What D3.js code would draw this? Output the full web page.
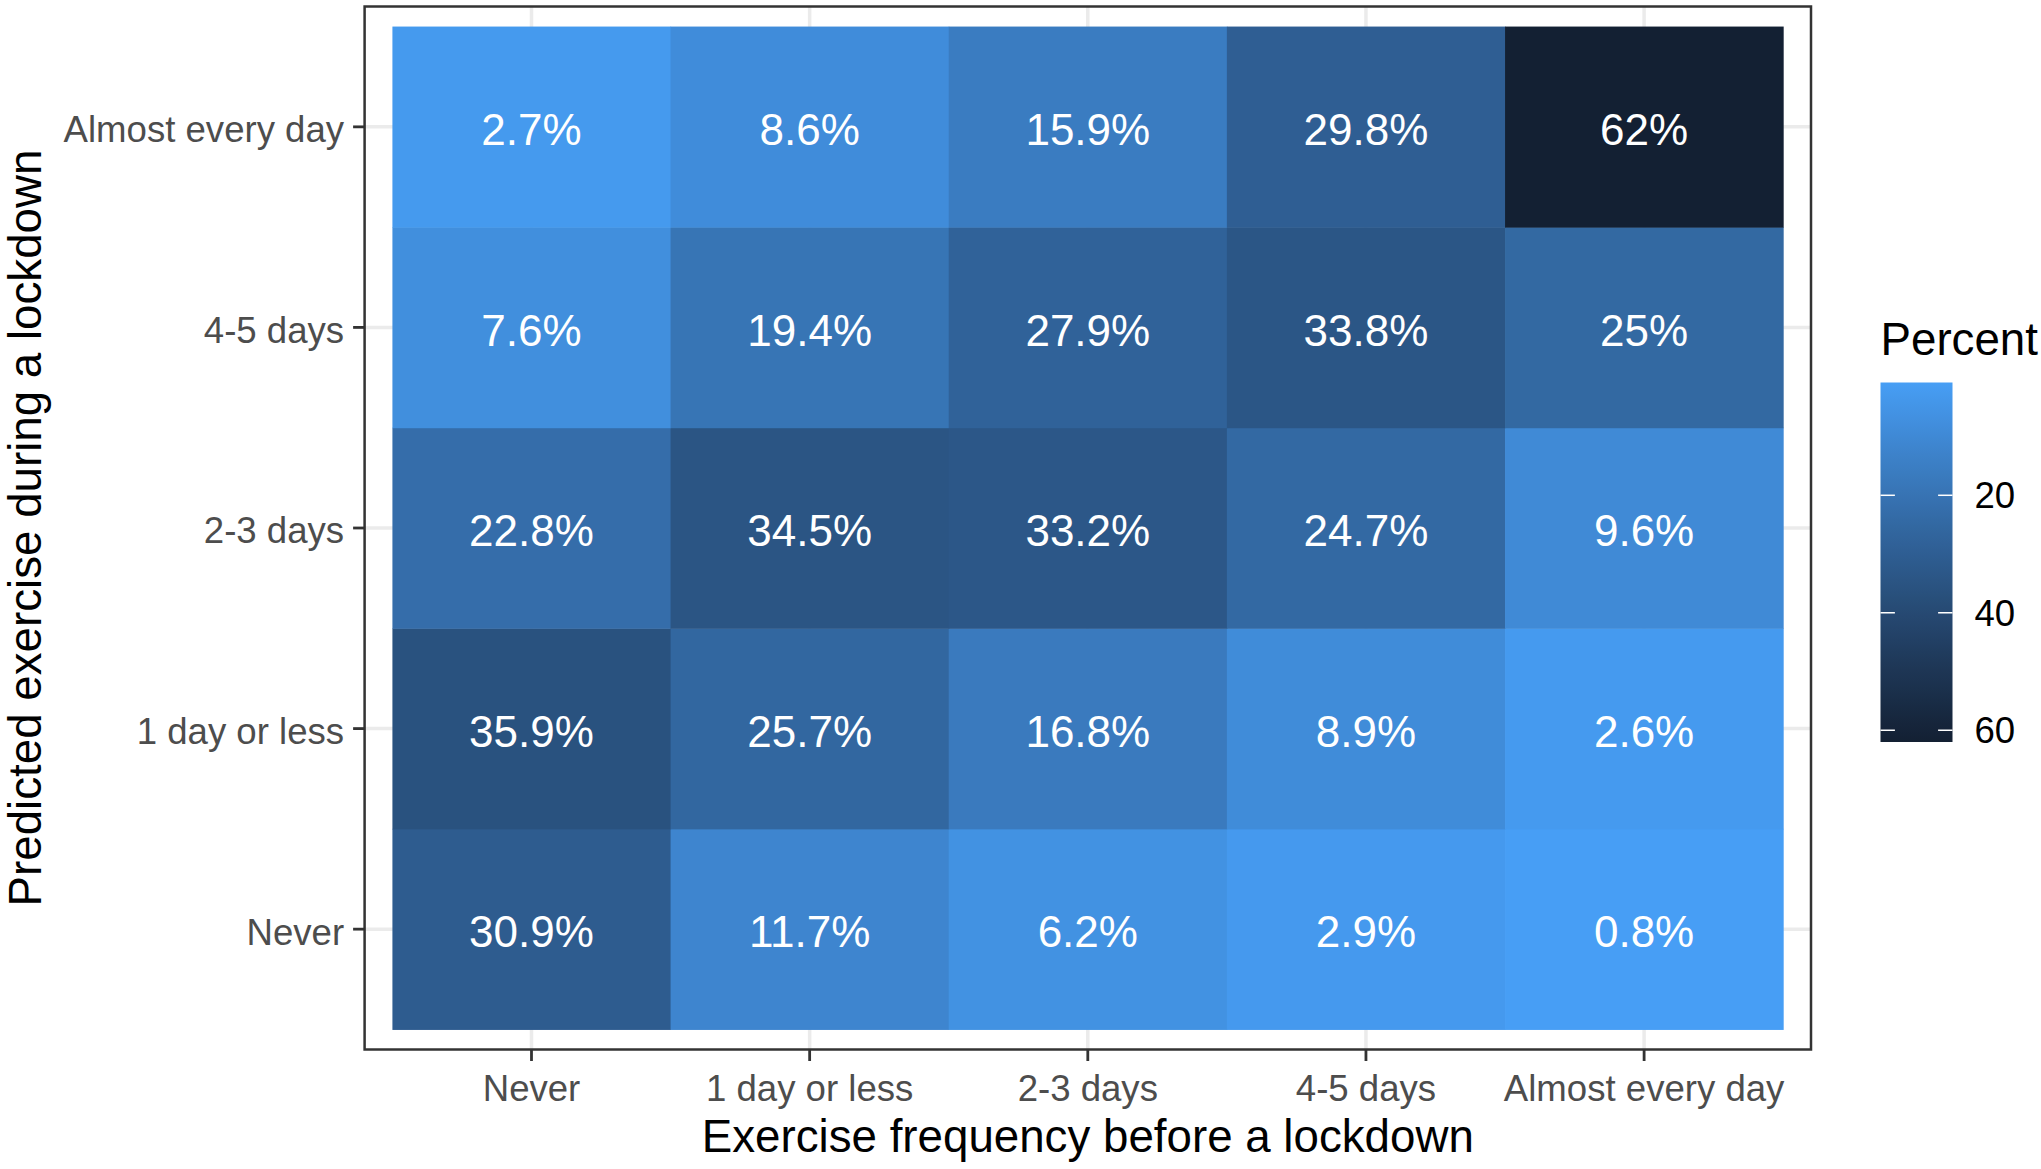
<!DOCTYPE html>
<html>
<head>
<meta charset="utf-8">
<script src="https://cdn.jsdelivr.net/npm/d3@7"></script>
<style>
  html, body { margin: 0; padding: 0; background: #fff; }
  svg { display: block; font-family: "Liberation Sans", Arial, Helvetica, sans-serif; }
</style>
</head>
<body>
<svg id="chart" width="2041" height="1169"></svg>
<script>
// ---- Data ----
const beforeCategories = ["Never", "1 day or less", "2-3 days", "4-5 days", "Almost every day"];
const duringCategories = ["Never", "1 day or less", "2-3 days", "4-5 days", "Almost every day"];
// percent values: one array per predicted (during) category, ordered by beforeCategories
const valuesNever          = [30.9, 11.7, 6.2, 2.9, 0.8];
const valuesOneDayOrLess   = [35.9, 25.7, 16.8, 8.9, 2.6];
const valuesTwoThreeDays   = [22.8, 34.5, 33.2, 24.7, 9.6];
const valuesFourFiveDays   = [7.6, 19.4, 27.9, 33.8, 25];
const valuesAlmostEveryDay = [2.7, 8.6, 15.9, 29.8, 62];
const legendTicks = [20, 40, 60];
const xTitle = "Exercise frequency before a lockdown";
const yTitle = "Predicted exercise during a lockdown";
const legendTitle = "Percent";

const rows = [valuesNever, valuesOneDayOrLess, valuesTwoThreeDays, valuesFourFiveDays, valuesAlmostEveryDay];
const cells = [];
duringCategories.forEach((d, i) => {
  beforeCategories.forEach((b, j) => {
    cells.push({ before: b, during: d, value: rows[i][j] });
  });
});

// ---- Layout ----
const svg = d3.select("#chart");
const panel = { left: 364.6, top: 6.5, right: 1811, bottom: 1049.5 };
const pw = panel.right - panel.left, ph = panel.bottom - panel.top;
const unitX = pw / 5.2, unitY = ph / 5.2;

const x = d3.scaleBand().domain(beforeCategories)
  .range([panel.left + 0.1 * unitX, panel.right - 0.1 * unitX]).padding(0);
const y = d3.scaleBand().domain(duringCategories)
  .range([panel.bottom - 0.1 * unitY, panel.top + 0.1 * unitY]).padding(0);

const vmin = d3.min(cells, d => d.value), vmax = d3.max(cells, d => d.value);
const color = d3.scaleLinear().domain([vmin, vmax])
  .range(["#479ef5", "#132033"]).interpolate(d3.interpolateLab);

// panel background + grid
svg.append("rect").attr("x", panel.left).attr("y", panel.top)
  .attr("width", pw).attr("height", ph).attr("fill", "#fff");
const grid = svg.append("g");
beforeCategories.forEach(c => {
  const cx = x(c) + x.bandwidth() / 2;
  grid.append("line").attr("x1", cx).attr("x2", cx)
    .attr("y1", panel.top).attr("y2", panel.bottom)
    .attr("stroke", "#EBEBEB").attr("stroke-width", 3.5);
});
duringCategories.forEach(c => {
  const cy = y(c) + y.bandwidth() / 2;
  grid.append("line").attr("y1", cy).attr("y2", cy)
    .attr("x1", panel.left).attr("x2", panel.right)
    .attr("stroke", "#EBEBEB").attr("stroke-width", 3.5);
});

// tiles
svg.append("g").selectAll("rect").data(cells).join("rect")
  .attr("x", d => x(d.before))
  .attr("y", d => y(d.during))
  .attr("width", x.bandwidth() + 0.5)
  .attr("height", y.bandwidth() + 0.5)
  .attr("fill", d => color(d.value));

// labels
svg.append("g").selectAll("text").data(cells).join("text")
  .attr("x", d => x(d.before) + x.bandwidth() / 2)
  .attr("y", d => y(d.during) + y.bandwidth() / 2 + 2.5)
  .attr("dy", "0.355em")
  .attr("text-anchor", "middle")
  .attr("fill", "#fff")
  .attr("font-size", 44)
  .text(d => `${d.value}%`);

// panel border
svg.append("rect").attr("x", panel.left).attr("y", panel.top)
  .attr("width", pw).attr("height", ph)
  .attr("fill", "none").attr("stroke", "#333333").attr("stroke-width", 2.5);

// axes
const xAxis = d3.axisBottom(x).tickSize(11.5).tickPadding(6);
const gx = svg.append("g").attr("transform", `translate(0,${panel.bottom})`).call(xAxis);
gx.select(".domain").remove();
gx.selectAll(".tick line").attr("stroke", "#333333").attr("stroke-width", 2.8);
gx.selectAll(".tick text").attr("fill", "#4D4D4D").attr("font-size", 36.6)
  .attr("font-family", "Liberation Sans, Arial, sans-serif").attr("dy", "0.93em");

const yAxis = d3.axisLeft(y).tickSize(11.5).tickPadding(9);
const gy = svg.append("g").attr("transform", `translate(${panel.left},0)`).call(yAxis);
gy.select(".domain").remove();
gy.selectAll(".tick line").attr("stroke", "#333333").attr("stroke-width", 2.8);
gy.selectAll(".tick text").attr("fill", "#4D4D4D").attr("font-size", 36.6)
  .attr("font-family", "Liberation Sans, Arial, sans-serif").attr("dy", "0.42em");

// axis titles
svg.append("text").attr("x", (panel.left + panel.right) / 2).attr("y", 1152)
  .attr("text-anchor", "middle").attr("font-size", 45.7).attr("fill", "#000").text(xTitle);
svg.append("text")
  .attr("transform", `translate(41,${(panel.top + panel.bottom) / 2}) rotate(-90)`)
  .attr("text-anchor", "middle").attr("font-size", 45.7).attr("fill", "#000").text(yTitle);

// legend
const lg = { x: 1880.5, y: 382.5, w: 72, h: 359.5 };
const defs = svg.append("defs");
const grad = defs.append("linearGradient").attr("id", "lgrad")
  .attr("x1", 0).attr("x2", 0).attr("y1", 0).attr("y2", 1);
d3.range(0, 1.0001, 0.05).forEach(t => {
  grad.append("stop").attr("offset", t).attr("stop-color", color(vmin + t * (vmax - vmin)));
});
const ly = d3.scaleLinear().domain([vmin, vmax]).range([lg.y, lg.y + lg.h]);
svg.append("text").attr("x", lg.x).attr("y", 355).attr("font-size", 45.7)
  .attr("fill", "#000").text(legendTitle);
svg.append("rect").attr("x", lg.x).attr("y", lg.y).attr("width", lg.w).attr("height", lg.h)
  .attr("fill", "url(#lgrad)");
const lt = svg.append("g");
legendTicks.forEach(t => {
  const ty = ly(t);
  lt.append("line").attr("x1", lg.x).attr("x2", lg.x + 14.4).attr("y1", ty).attr("y2", ty)
    .attr("stroke", "#fff").attr("stroke-width", 1.5);
  lt.append("line").attr("x1", lg.x + lg.w - 14.4).attr("x2", lg.x + lg.w).attr("y1", ty).attr("y2", ty)
    .attr("stroke", "#fff").attr("stroke-width", 1.5);
  lt.append("text").attr("x", lg.x + lg.w + 22).attr("y", ty).attr("dy", "0.36em")
    .attr("font-size", 36.6).attr("fill", "#000").text(t);
});
</script>
</body>
</html>
